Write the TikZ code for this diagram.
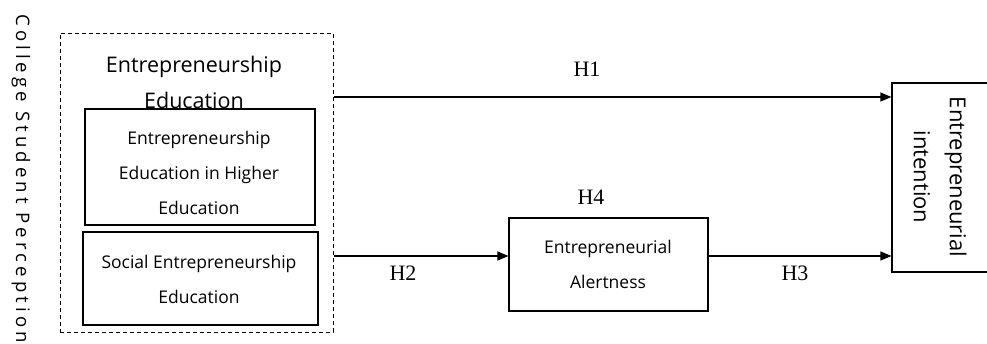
\documentclass[tikz,border=0pt]{standalone}
\usepackage{fontspec}
\setmainfont{Liberation Serif}
\setsansfont{Open Sans}
\newfontfamily\spaced[LetterSpace=22]{Open Sans}
\usetikzlibrary{arrows.meta}
\begin{document}
\begin{tikzpicture}[x=1pt,y=-1pt,
  box/.style={draw,line width=1.2pt,inner sep=0pt},
  lab/.style={font=\rmfamily\fontsize{22}{24}\selectfont,inner sep=0pt},
  sx/.style={font=\sffamily\fontsize{17.5}{35}\selectfont,align=center,inner sep=0pt},
  arr/.style={line width=1.2pt,-{Triangle[length=11pt,width=9pt]}}]
\useasboundingbox (0,0) rectangle (987,343);
\node[draw,dash pattern=on 4pt off 3pt,line width=1pt,minimum width=273pt,minimum height=299pt,inner sep=0pt] (outer) at (196.5,182.5) {};
\node[sx,font=\sffamily\fontsize{21.5}{36}\selectfont] (head) at (194,82) {Entrepreneurship\\Education};
\node[box,minimum width=230pt,minimum height=116pt] (ehe) at (200,167) {};
\node[sx] (eht) at (199,173) {Entrepreneurship\\Education in Higher\\Education};
\node[box,minimum width=235pt,minimum height=93pt] (see) at (200.5,278.5) {};
\node[sx] (set) at (199,279) {Social Entrepreneurship\\Education};
\node[box,minimum width=199pt,minimum height=93pt] (ea) at (608.5,264.5) {};
\node[sx] (eat) at (608,264) {Entrepreneurial\\Alertness};
\node[box,minimum width=110pt,minimum height=189pt] (ei) at (947,177.5) {};
\node[sx,font=\sffamily\fontsize{22}{36}\selectfont,rotate=-90] (eit) at (940,177) {Entrepreneurial\\intention};
\node[rotate=-90,anchor=west,inner sep=0pt,font=\fontsize{18.6}{22}\spaced] (csp) at (21,14) {College Student Perception};
\coordinate (o1) at (outer.east |- 0,97);
\coordinate (o2) at (outer.east |- 0,256);
\draw[arr] (o1) -- (ei.west |- o1);
\draw[arr] (o2) -- (ea.west |- o2);
\draw[arr] (ea.east |- o2) -- (ei.west |- o2);
\node[lab] (h1) at (587,69) {H1};
\node[lab] (h2) at (403,273) {H2};
\node[lab] (h4) at (591,197) {H4};
\node[lab] (h3) at (795,273) {H3};
\end{tikzpicture}
\end{document}
